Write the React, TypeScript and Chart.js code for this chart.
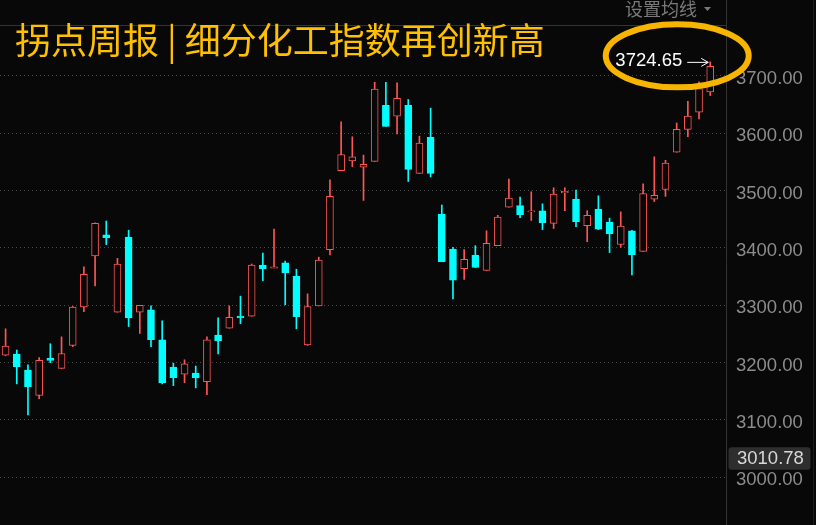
import React, { useEffect, useRef } from 'react';
import { Chart, registerables } from 'chart.js';

Chart.register(...registerables);

// OHLC values, one per candle
const openValues = [
  3213, 3215, 3187, 3143, 3208, 3190, 3230, 3297, 3386, 3423,
  3288, 3419, 3288, 3292, 3240, 3192, 3180, 3182, 3167, 3248,
  3260, 3281, 3281, 3370, 3365, 3374, 3351, 3231, 3299, 3397,
  3535, 3552, 3541, 3551, 3649, 3630, 3649, 3530, 3593, 3459,
  3398, 3364, 3387, 3361, 3404, 3471, 3474, 3463, 3465, 3443,
  3496, 3485, 3439, 3468, 3445, 3406, 3430, 3394, 3485, 3502,
  3567, 3607, 3637, 3672,
];
const highValues = [
  3259, 3222, 3196, 3209, 3233, 3245, 3298, 3367, 3444, 3447,
  3382, 3431, 3300, 3299, 3273, 3199, 3205, 3194, 3245, 3278,
  3299, 3316, 3372, 3391, 3433, 3377, 3363, 3320, 3384, 3519,
  3620, 3594, 3562, 3689, 3689, 3688, 3659, 3595, 3644, 3475,
  3401, 3397, 3404, 3430, 3457, 3520, 3489, 3498, 3477, 3505,
  3505, 3501, 3465, 3491, 3452, 3463, 3431, 3512, 3559, 3553,
  3618, 3656, 3690, 3724.65,
];
const lowValues = [
  3212, 3163, 3109, 3137, 3200, 3190, 3228, 3289, 3334, 3406,
  3288, 3263, 3251, 3228, 3163, 3160, 3165, 3156, 3144, 3215,
  3260, 3268, 3281, 3343, 3366, 3301, 3259, 3230, 3299, 3388,
  3535, 3542, 3483, 3551, 3612, 3599, 3516, 3530, 3524, 3376,
  3311, 3345, 3366, 3361, 3404, 3471, 3453, 3448, 3432, 3434,
  3465, 3437, 3411, 3432, 3392, 3401, 3353, 3394, 3481, 3490,
  3567, 3594, 3625, 3666,
];
const closeValues = [
  3229, 3193, 3158, 3204, 3204, 3216, 3297, 3354, 3443, 3418,
  3372, 3278, 3300, 3240, 3165, 3174, 3198, 3174, 3240, 3238,
  3279, 3278, 3370, 3364, 3367, 3357, 3280, 3298, 3379, 3490,
  3563, 3559, 3546, 3677, 3612, 3661, 3537, 3583, 3530, 3376,
  3344, 3380, 3366, 3408, 3454, 3487, 3458, 3464, 3444, 3494,
  3499, 3446, 3457, 3433, 3425, 3438, 3388, 3495, 3492, 3548,
  3607, 3630, 3678, 3717,
];
// one empty slot after the last candle
const categories = [...openValues.map((_, i) => `K${i + 1}`), ''];
const yTickValues = [3000, 3100, 3200, 3300, 3400, 3500, 3600, 3700];
const yMin = 2916.8;
const yMax = 3787.2;
const titleText = '拐点周报 | 细分化工指数再创新高';
const menuText = '设置均线';
const highMarkText = '3724.65';
const lowMarkText = '3010.78';

const BG = '#080808';
const RED = '#ff5555';
const CYAN = '#00ffff';
const GOLD = '#ffc000';

export default function App() {
  const ref = useRef<HTMLCanvasElement | null>(null);

  useEffect(() => {
    const canvas = ref.current;
    if (!canvas) return;
    const isUp = (i: number) => closeValues[i] >= openValues[i];

    const overlay = {
      id: 'overlay',
      beforeDraw(chart: any) {
        const c = chart.ctx;
        c.save();
        c.fillStyle = BG;
        c.fillRect(0, 0, chart.width, chart.height);
        c.restore();
      },
      afterDraw(chart: any) {
        const c = chart.ctx;
        const xs = chart.scales.x;
        const ys = chart.scales.y;
        const area = chart.chartArea;
        c.save();
        // frame lines
        c.strokeStyle = '#333333';
        c.lineWidth = 1;
        c.beginPath();
        c.moveTo(0, area.top - 0.5);
        c.lineTo(area.right, area.top - 0.5);
        c.stroke();
        c.beginPath();
        c.moveTo(Math.round(area.right) - 0.5, 0);
        c.lineTo(Math.round(area.right) - 0.5, chart.height);
        c.stroke();
        c.strokeStyle = '#1c1c1c';
        c.beginPath();
        c.moveTo(813.5, 0);
        c.lineTo(813.5, chart.height);
        c.stroke();

        // title
        c.fillStyle = GOLD;
        c.font = '36px "Noto Sans CJK SC"';
        c.textBaseline = 'alphabetic';
        c.textAlign = 'left';
        c.fillText(titleText, 15, 54);

        // menu text
        c.fillStyle = '#7a7a7a';
        c.font = '18px "Noto Sans CJK SC"';
        c.fillText(menuText, 625, 16);
        c.beginPath();
        c.moveTo(704, 7);
        c.lineTo(711, 7);
        c.lineTo(707.5, 11);
        c.closePath();
        c.fill();

        // high mark
        const last = openValues.length - 1;
        const hx = xs.getPixelForValue(last);
        const hy = ys.getPixelForValue(highValues[last]);
        c.fillStyle = '#ffffff';
        c.font = '18.5px "Liberation Sans"';
        c.textBaseline = 'middle';
        c.textAlign = 'right';
        c.fillText(highMarkText, hx - 28, hy - 1);
        c.strokeStyle = '#ffffff';
        c.lineWidth = 1;
        c.beginPath();
        c.moveTo(hx - 23, hy + 0.5);
        c.lineTo(hx - 2, hy + 0.5);
        c.moveTo(hx - 9, hy - 3.5);
        c.lineTo(hx - 2, hy + 0.5);
        c.lineTo(hx - 9, hy + 4.5);
        c.stroke();

        // gold ellipse
        c.strokeStyle = '#f7b500';
        c.lineWidth = 6;
        c.beginPath();
        c.ellipse(hx - 33, hy - 6, 71.5, 31.5, 0, 0, Math.PI * 2);
        c.stroke();

        // low mark box on the axis
        const by = ys.getPixelForValue(3000) - 19;
        c.fillStyle = '#2e2e2e';
        c.beginPath();
        (c as any).roundRect(728.5, by - 11, 82, 22.5, 3);
        c.fill();
        c.fillStyle = '#d8d8d8';
        c.font = '18.5px "Liberation Sans"';
        c.textAlign = 'left';
        c.textBaseline = 'middle';
        c.fillText(lowMarkText, 737, by + 1);
        c.restore();
      },
    };

    const chart = new Chart(canvas, {
      type: 'bar',
      data: {
        labels: categories,
        datasets: [
          {
            label: 'body',
            data: openValues.map((o, i) => [o, closeValues[i]]) as any,
            backgroundColor: openValues.map((_, i) => (isUp(i) ? BG : CYAN)),
            borderColor: openValues.map((_, i) => (isUp(i) ? RED : CYAN)),
            borderWidth: 1,
            borderSkipped: false,
            barThickness: 7,
            minBarLength: 1,
            grouped: false,
            order: 0,
          } as any,
          {
            label: 'wick',
            data: lowValues.map((l, i) => [l, highValues[i]]) as any,
            backgroundColor: openValues.map((_, i) => (isUp(i) ? RED : CYAN)),
            borderWidth: 0,
            barThickness: 1,
            grouped: false,
            order: 1,
          } as any,
        ],
      },
      plugins: [overlay],
      options: {
        animation: false,
        responsive: true,
        maintainAspectRatio: false,
        layout: { autoPadding: false, padding: { top: 26, left: 0, right: 0, bottom: 0 } },
        plugins: {
          legend: { display: false },
          tooltip: { enabled: false },
        },
        scales: {
          x: {
            display: false,
            offset: true,
            grid: { display: false },
          },
          y: {
            position: 'right',
            min: yMin,
            max: yMax,
            afterBuildTicks: (s: any) => {
              s.ticks = yTickValues.map((v) => ({ value: v }));
            },
            afterFit: (s: any) => {
              s.width = 89;
              s.paddingTop = 0;
              s.paddingBottom = 0;
            },
            ticks: {
              color: '#8c8c8c',
              font: { family: '"Liberation Sans"', size: 18.5 },
              padding: 9,
              labelOffset: 3,
              callback: (v: any) => Number(v).toFixed(2),
            },
            grid: { color: '#4a4a4a', lineWidth: 1, drawTicks: false },
            border: { display: false, dash: [1, 3] },
          },
        },
      } as any,
    });
    return () => chart.destroy();
  }, []);

  return (
    <div style={{ position: 'fixed', left: 0, top: 0, width: 816, height: 525, background: BG }}>
      <canvas ref={ref} style={{ display: 'block' }} />
    </div>
  );
}
